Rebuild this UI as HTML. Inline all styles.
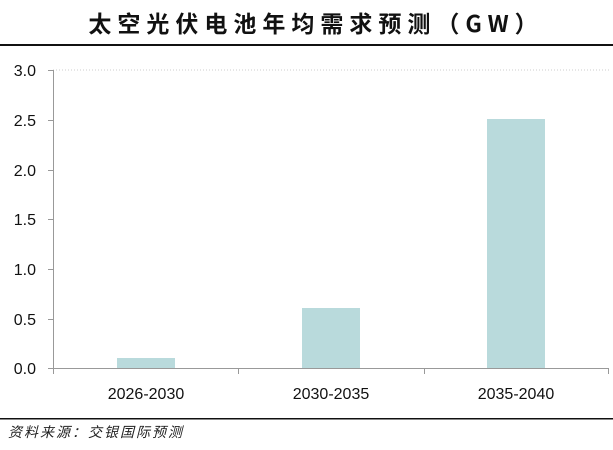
<!DOCTYPE html>
<html><head><meta charset="utf-8"><style>
body{margin:0;background:#fff;width:613px;height:445px;overflow:hidden}
</style></head><body>
<svg width="613" height="445" xmlns="http://www.w3.org/2000/svg" font-family="Liberation Sans, Noto Sans CJK SC, sans-serif">
<text x="316" y="32" text-anchor="middle" font-size="23" font-weight="bold" letter-spacing="6" font-family="Noto Sans CJK SC, sans-serif" fill="#111">太空光伏电池年均需求预测（GW）</text>
<rect x="0" y="44" width="613" height="2" fill="#111"/>
<line x1="53" y1="70" x2="610" y2="70" stroke="#ccc" stroke-dasharray="1,2"/>
<g stroke="#999" stroke-width="1">
<line x1="53.5" y1="70" x2="53.5" y2="369"/>
<line x1="48" y1="70.5" x2="53" y2="70.5"/>
<line x1="48" y1="120.5" x2="53" y2="120.5"/>
<line x1="48" y1="170.5" x2="53" y2="170.5"/>
<line x1="48" y1="219.5" x2="53" y2="219.5"/>
<line x1="48" y1="269.5" x2="53" y2="269.5"/>
<line x1="48" y1="319.5" x2="53" y2="319.5"/>
<line x1="48" y1="368.5" x2="609" y2="368.5"/>
<line x1="53.5" y1="368" x2="53.5" y2="374"/>
<line x1="238.5" y1="368" x2="238.5" y2="374"/>
<line x1="424.5" y1="368" x2="424.5" y2="374"/>
<line x1="608.5" y1="368" x2="608.5" y2="374"/>
</g>
<g fill="#b9dadc">
<rect x="117" y="358" width="58" height="10"/>
<rect x="302" y="308" width="58" height="60"/>
<rect x="487" y="119" width="58" height="249"/>
</g>
<g font-size="16" fill="#111" text-anchor="end">
<text x="36" y="76">3.0</text>
<text x="36" y="126">2.5</text>
<text x="36" y="176">2.0</text>
<text x="36" y="225">1.5</text>
<text x="36" y="275">1.0</text>
<text x="36" y="325">0.5</text>
<text x="36" y="374">0.0</text>
</g>
<g font-size="16" fill="#111" text-anchor="middle">
<text x="146" y="399">2026-2030</text>
<text x="331" y="399">2030-2035</text>
<text x="516" y="399">2035-2040</text>
</g>
<rect x="0" y="418" width="613" height="1.5" fill="#111"/>
<text x="8" y="437" font-size="14" font-style="italic" letter-spacing="2" fill="#222" font-family="Noto Sans CJK SC, sans-serif">资料来源：交银国际预测</text>
</svg>
</body></html>
